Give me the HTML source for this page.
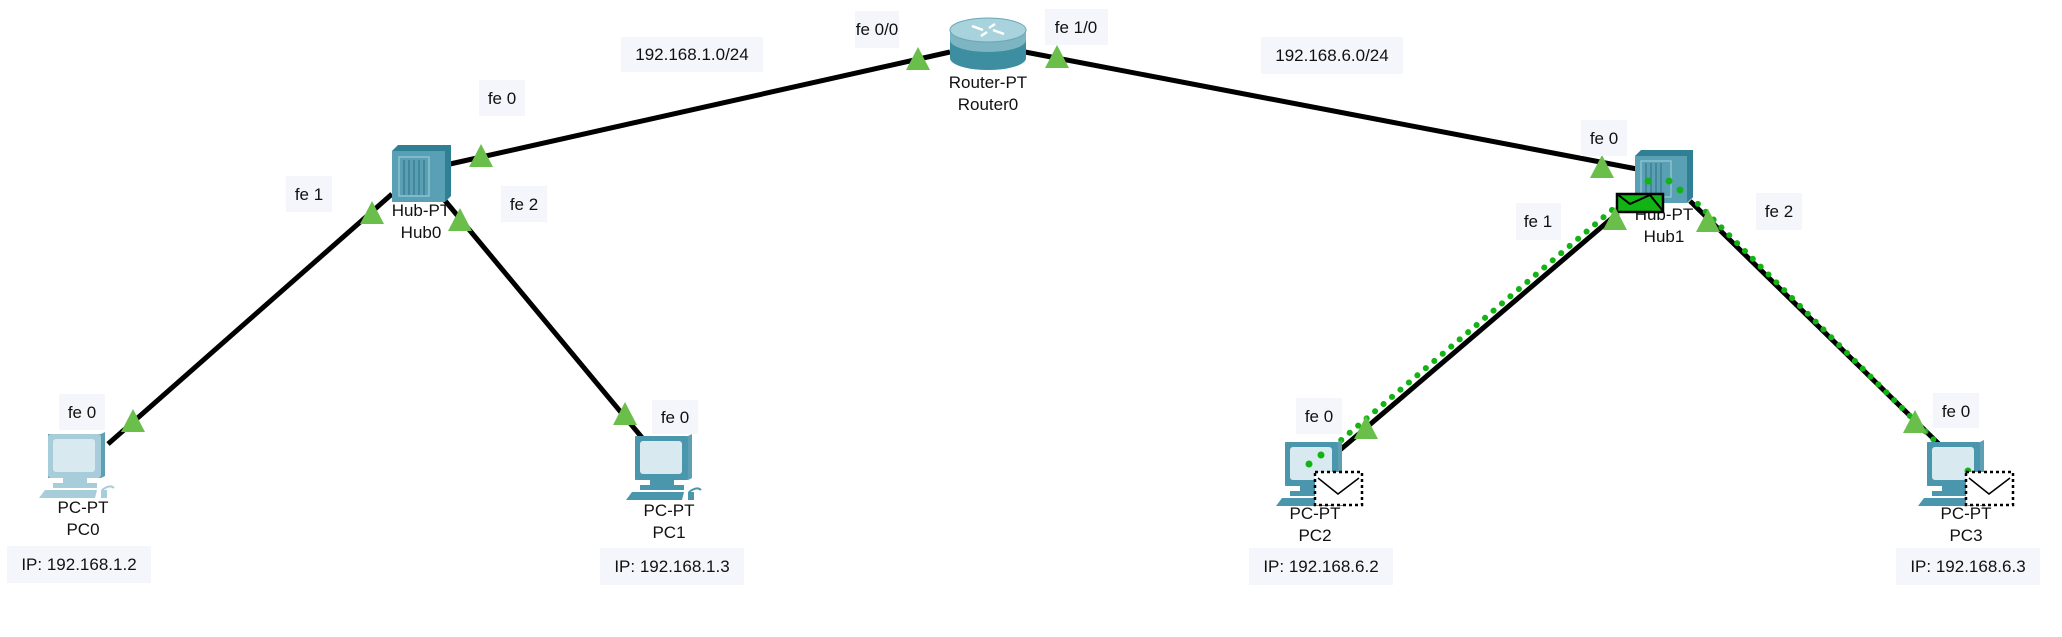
<!DOCTYPE html>
<html><head><meta charset="utf-8"><style>
html,body{margin:0;padding:0;background:#fff;}
svg{display:block;font-family:"Liberation Sans",Arial,sans-serif;}
.l{font-size:17px;fill:#111;}
.lb{fill:#f4f6fc;}
</style></head><body>
<svg width="2062" height="637" viewBox="0 0 2062 637" xmlns="http://www.w3.org/2000/svg">
<defs>
<symbol id="pc" viewBox="0 0 80 66" width="80" height="66" overflow="visible">
  <path d="M9 2 L62 2 L66 0 L66 44 L62 46 L9 46 Z" fill="#5f9fb4"/>
  <rect x="9" y="2" width="53" height="44" rx="3" fill="currentColor"/>
  <rect x="14" y="7" width="42" height="33" rx="3" fill="#d8eaf0"/>
  <rect x="24" y="46" width="24" height="5" fill="currentColor"/>
  <rect x="14" y="51" width="44" height="5" fill="currentColor"/>
  <path d="M6 58 L58 58 L56 66 L0 66 Z" fill="currentColor"/>
  <rect x="62" y="58" width="6" height="8" fill="currentColor"/>
  <path d="M63 58 q8 -6 12 -2" stroke="currentColor" stroke-width="2" fill="none"/>
</symbol>
</defs>

<!-- links -->
<g stroke="#000" stroke-width="5" fill="none">
  <line x1="450" y1="164" x2="950" y2="52"/>
  <line x1="1025" y1="52" x2="1637" y2="169"/>
  <line x1="392" y1="194" x2="108" y2="444"/>
  <line x1="442" y1="197" x2="644" y2="440"/>
  <line x1="1618" y1="213" x2="1340" y2="450"/>
  <line x1="1690" y1="201" x2="1942" y2="447"/>
</g>
<!-- green dots -->
<g stroke="#12b314" stroke-width="6" stroke-linecap="round" stroke-dasharray="0.1 11" fill="none">
  <line x1="1612" y1="210" x2="1313" y2="464"/>
  <line x1="1690" y1="196" x2="1964" y2="470"/>
  <path d="M1653 177 Q1670 172 1680 186"/>
</g>

<!-- router -->
<g>
  <path d="M950 30 L950 58 A38 12 0 0 0 1026 58 L1026 30 Z" fill="#7db5c3"/>
  <path d="M950 40 L950 58 A38 12 0 0 0 1026 58 L1026 40 A38 12 0 0 1 950 40Z" fill="#3d8ea0"/>
  <ellipse cx="988" cy="30" rx="38" ry="12" fill="#a9d3dc" stroke="#6aa7b6"/>
  <g stroke="#fff" stroke-width="2.5"><line x1="972" y1="26" x2="983" y2="30"/><line x1="993" y1="30" x2="1004" y2="34"/><line x1="995" y1="24" x2="989" y2="28"/><line x1="981" y1="36" x2="987" y2="32"/></g>
</g>
<text class="l" x="988" y="88" text-anchor="middle">Router-PT</text>
<text class="l" x="988" y="110" text-anchor="middle">Router0</text>

<!-- hubs -->
<g>
  <path d="M392 151 L398 145 L451 145 L451 196 L445 202 L392 202Z" fill="#2f7f95"/>
  <rect x="392" y="151" width="53" height="51" fill="#5aa0b5"/>
  <rect x="399" y="157" width="30" height="39" fill="none" stroke="#8cc3d2" stroke-width="1.5"/>
  <g stroke="#3d7f92" stroke-width="1.5"><line x1="404" y1="160" x2="404" y2="195"/><line x1="409" y1="160" x2="409" y2="195"/><line x1="414" y1="160" x2="414" y2="195"/><line x1="419" y1="160" x2="419" y2="195"/><line x1="424" y1="160" x2="424" y2="195"/></g>
</g>
<text class="l" x="421" y="216" text-anchor="middle">Hub-PT</text>
<text class="l" x="421" y="238" text-anchor="middle">Hub0</text>
<g>
  <path d="M1635 156 L1641 150 L1693 150 L1693 197 L1687 203 L1635 203Z" fill="#2f7f95"/>
  <rect x="1635" y="156" width="52" height="47" fill="#5aa0b5"/>
  <rect x="1641" y="161" width="30" height="36" fill="none" stroke="#8cc3d2" stroke-width="1.5"/>
  <g stroke="#3d7f92" stroke-width="1.5"><line x1="1646" y1="163" x2="1646" y2="196"/><line x1="1651" y1="163" x2="1651" y2="196"/><line x1="1656" y1="163" x2="1656" y2="196"/><line x1="1661" y1="163" x2="1661" y2="196"/></g>
</g>
<text class="l" x="1664" y="220" text-anchor="middle">Hub-PT</text>
<text class="l" x="1664" y="242" text-anchor="middle">Hub1</text>
<g>
  <rect x="1617" y="194" width="46" height="18" fill="#12b314" stroke="#000" stroke-width="2.5"/>
  <path d="M1617 194 L1630 204 L1650 195 L1663 211" stroke="#000" stroke-width="2" fill="none"/>
</g>
<g fill="#12b314"><circle cx="1648" cy="181" r="3.5"/><circle cx="1669" cy="181" r="3.5"/><circle cx="1680" cy="190" r="3.5"/></g>

<!-- PCs -->
<use href="#pc" x="39" y="432" style="color:#a6cdd9"/>
<use href="#pc" x="626" y="434" style="color:#4a96ad"/>
<use href="#pc" x="1276" y="440" style="color:#4a96ad"/>
<use href="#pc" x="1918" y="440" style="color:#4a96ad"/>
<g fill="#12b314"><circle cx="1309" cy="464" r="3.5"/><circle cx="1321" cy="455" r="3.5"/><circle cx="1968" cy="471" r="3.5"/></g>
<g fill="#fff" stroke="#000" stroke-width="2.5" stroke-dasharray="3 3">
  <rect x="1315" y="472" width="47" height="33"/>
  <rect x="1966" y="472" width="47" height="33"/>
</g>
<g stroke="#000" stroke-width="1.5" fill="none">
  <path d="M1318 478 L1338 494 L1359 478"/><path d="M1969 478 L1989 494 L2010 478"/>
</g>
<text class="l" x="83" y="513" text-anchor="middle">PC-PT</text>
<text class="l" x="83" y="535" text-anchor="middle">PC0</text>
<text class="l" x="669" y="516" text-anchor="middle">PC-PT</text>
<text class="l" x="669" y="538" text-anchor="middle">PC1</text>
<text class="l" x="1315" y="519" text-anchor="middle">PC-PT</text>
<text class="l" x="1315" y="541" text-anchor="middle">PC2</text>
<text class="l" x="1966" y="519" text-anchor="middle">PC-PT</text>
<text class="l" x="1966" y="541" text-anchor="middle">PC3</text>

<!-- triangles -->
<g fill="#6abf4b">
  <path d="M481 144 L493 167 L469 167Z"/>
  <path d="M918 47 L930 70 L906 70Z"/>
  <path d="M1057 45 L1069 68 L1045 68Z"/>
  <path d="M372 201 L384 224 L360 224Z"/>
  <path d="M460 208 L472 231 L448 231Z"/>
  <path d="M133 409 L145 432 L121 432Z"/>
  <path d="M625 402 L637 425 L613 425Z"/>
  <path d="M1602 155 L1614 178 L1590 178Z"/>
  <path d="M1615 207 L1627 230 L1603 230Z"/>
  <path d="M1708 209 L1720 232 L1696 232Z"/>
  <path d="M1366 416 L1378 439 L1354 439Z"/>
  <path d="M1915 410 L1927 433 L1903 433Z"/>
</g>

<!-- labels -->
<g>
  <rect class="lb" x="621" y="37" width="142" height="35"/><text class="l" x="692" y="60" text-anchor="middle">192.168.1.0/24</text>
  <rect class="lb" x="855" y="11" width="44" height="37"/><text class="l" x="877" y="35" text-anchor="middle">fe 0/0</text>
  <rect class="lb" x="479" y="80" width="46" height="36"/><text class="l" x="502" y="104" text-anchor="middle">fe 0</text>
  <rect class="lb" x="286" y="176" width="46" height="36"/><text class="l" x="309" y="200" text-anchor="middle">fe 1</text>
  <rect class="lb" x="501" y="186" width="46" height="36"/><text class="l" x="524" y="210" text-anchor="middle">fe 2</text>
  <rect class="lb" x="59" y="394" width="46" height="36"/><text class="l" x="82" y="418" text-anchor="middle">fe 0</text>
  <rect class="lb" x="652" y="400" width="46" height="34"/><text class="l" x="675" y="423" text-anchor="middle">fe 0</text>
  <rect class="lb" x="1045" y="9" width="63" height="36"/><text class="l" x="1076" y="33" text-anchor="middle">fe 1/0</text>
  <rect class="lb" x="1261" y="37" width="142" height="37"/><text class="l" x="1332" y="61" text-anchor="middle">192.168.6.0/24</text>
  <rect class="lb" x="1581" y="120" width="46" height="36"/><text class="l" x="1604" y="144" text-anchor="middle">fe 0</text>
  <rect class="lb" x="1516" y="203" width="45" height="37"/><text class="l" x="1538" y="227" text-anchor="middle">fe 1</text>
  <rect class="lb" x="1756" y="193" width="46" height="37"/><text class="l" x="1779" y="217" text-anchor="middle">fe 2</text>
  <rect class="lb" x="1296" y="398" width="46" height="36"/><text class="l" x="1319" y="422" text-anchor="middle">fe 0</text>
  <rect class="lb" x="1933" y="393" width="46" height="35"/><text class="l" x="1956" y="417" text-anchor="middle">fe 0</text>
  <rect class="lb" x="7" y="546" width="144" height="37"/><text class="l" x="79" y="570" text-anchor="middle">IP: 192.168.1.2</text>
  <rect class="lb" x="600" y="548" width="144" height="37"/><text class="l" x="672" y="572" text-anchor="middle">IP: 192.168.1.3</text>
  <rect class="lb" x="1249" y="548" width="144" height="37"/><text class="l" x="1321" y="572" text-anchor="middle">IP: 192.168.6.2</text>
  <rect class="lb" x="1896" y="548" width="144" height="37"/><text class="l" x="1968" y="572" text-anchor="middle">IP: 192.168.6.3</text>
</g>
</svg>
</body></html>
